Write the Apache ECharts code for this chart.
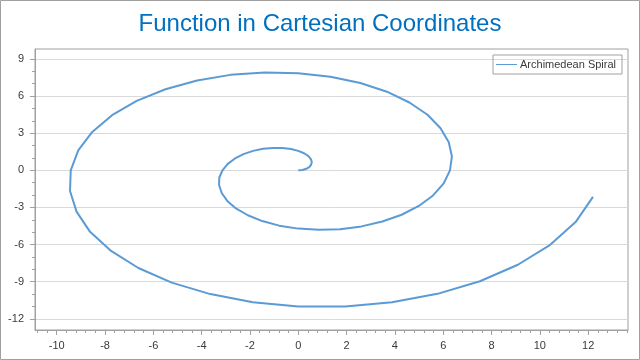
<!DOCTYPE html>
<html>
<head>
<meta charset="utf-8">
<script src="https://cdn.jsdelivr.net/npm/echarts@6/dist/echarts.min.js"></script>
<style>
html,body{margin:0;padding:0;background:#fff;}
#c{width:640px;height:360px;}
</style>
</head>
<body>
<div id="c"></div>
<script>
// Spiral vertices
const spiralX = [0, 0.17, 0.33, 0.45, 0.53, 0.56, 0.52, 0.42, 0.24, 0, -0.30, -0.66, -1.05, -1.46, -1.87, -2.27, -2.62, -2.92, -3.14,
  -3.27, -3.28, -3.17, -2.94, -2.58, -2.09, -1.49, -0.79, 0, 0.85, 1.73, 2.62, 3.48, 4.28, 4.99, 5.58, 6.02, 6.28,
  6.36, 6.23, 5.89, 5.35, 4.60, 3.67, 2.57, 1.33, 0, -1.39, -2.81, -4.19, -5.50, -6.69, -7.71, -8.53, -9.11, -9.42,
  -9.45, -9.18, -8.62, -7.75, -6.62, -5.24, -3.64, -1.88, 0, 1.94, 3.88, 5.76, 7.52, 9.09, 10.43, 11.48, 12.20];
const spiralY = [0, 0.03, 0.12, 0.26, 0.45, 0.67, 0.91, 1.15, 1.38, 1.57, 1.72, 1.80, 1.81, 1.74, 1.57, 1.31, 0.96, 0.52, 0,
  -0.58, -1.19, -1.83, -2.47, -3.08, -3.63, -4.10, -4.47, -4.71, -4.81, -4.76, -4.53, -4.14, -3.59, -2.88, -2.03, -1.06, 0,
  1.12, 2.27, 3.40, 4.49, 5.48, 6.35, 7.05, 7.56, 7.85, 7.91, 7.71, 7.26, 6.55, 5.61, 4.45, 3.10, 1.61, 0,
  -1.67, -3.34, -4.97, -6.51, -7.89, -9.07, -10.00, -10.66, -11.00, -11.00, -10.66, -9.98, -8.96, -7.63, -6.02, -4.18, -2.15];
const seriesName = 'Archimedean Spiral';
const titleText = 'Function in Cartesian Coordinates';
const xTickLabels = [-10, -8, -6, -4, -2, 0, 2, 4, 6, 8, 10, 12];
const yTickLabels = [-12, -9, -6, -3, 0, 3, 6, 9];

const xMin = -10.9, xMax = 13.65, yMin = -12.9, yMax = 9.8;
const xMinor = []; for (let i = -27; i <= 34; i++) xMinor.push(+(i * 0.4).toFixed(1));
const yMinor = []; for (let i = -12; i <= 9; i++) yMinor.push(i);

const axisColor = '#a0a0a0';
const labelStyle = { color: '#3a3a3a', fontSize: 11, fontFamily: 'Liberation Sans, Arial, sans-serif' };

const chart = echarts.init(document.getElementById('c'), null, { renderer: 'canvas' });
chart.setOption({
  animation: false,
  backgroundColor: '#ffffff',
  title: {
    text: titleText, left: 'center', top: 7,
    textStyle: { color: '#0070c0', fontSize: 24, fontWeight: 'normal', fontFamily: 'Liberation Sans, Arial, sans-serif' }
  },
  graphic: [{ type: 'rect', shape: { x: 0.5, y: 0.5, width: 639, height: 359 }, style: { fill: 'none', stroke: '#a0a0a0', lineWidth: 1 }, silent: true }],
  legend: {
    right: 18, top: 55, orient: 'vertical',
    borderColor: '#a0a0a0', borderWidth: 1, padding: [4, 6, 4, 3],
    itemWidth: 21, itemHeight: 1, itemGap: 3,
    textStyle: { color: '#3a3a3a', fontSize: 11, fontFamily: 'Liberation Sans, Arial, sans-serif', padding: [0, 0, 0, -2] },
    data: [{ name: seriesName, icon: 'rect' }]
  },
  grid: { left: 35, top: 49, right: 12, bottom: 30, show: true, borderColor: axisColor, borderWidth: 1 },
  xAxis: [
    { type: 'value', min: xMin, max: xMax, position: 'bottom',
      axisLine: { show: true, onZero: false, lineStyle: { color: axisColor } },
      axisTick: { show: true, customValues: xTickLabels, length: 5, lineStyle: { color: axisColor } },
      axisLabel: { show: true, customValues: xTickLabels, margin: 10, ...labelStyle },
      splitLine: { show: false } },
    { type: 'value', min: xMin, max: xMax, position: 'bottom',
      axisLine: { show: false, onZero: false },
      axisTick: { show: true, customValues: xMinor, length: 3, lineStyle: { color: axisColor } },
      axisLabel: { show: false }, splitLine: { show: false } }
  ],
  yAxis: [
    { type: 'value', min: yMin, max: yMax, position: 'left',
      axisLine: { show: true, onZero: false, lineStyle: { color: axisColor } },
      axisTick: { show: true, customValues: yTickLabels, length: 5, lineStyle: { color: axisColor } },
      axisLabel: { show: true, customValues: yTickLabels, margin: 11, ...labelStyle },
      splitLine: { show: true, lineStyle: { color: '#d9d9d9' } } },
    { type: 'value', min: yMin, max: yMax, position: 'left',
      axisLine: { show: false, onZero: false },
      axisTick: { show: true, customValues: yMinor, length: 3, lineStyle: { color: axisColor } },
      axisLabel: { show: false }, splitLine: { show: false } }
  ],
  series: [{
    name: seriesName, type: 'line', xAxisIndex: 0, yAxisIndex: 0,
    data: spiralX.map((x, i) => [x, spiralY[i]]),
    showSymbol: false, symbol: 'none', smooth: false,
    lineStyle: { color: '#5b9bd5', width: 2 }, itemStyle: { color: '#5b9bd5' }
  }]
});
</script>
</body>
</html>
